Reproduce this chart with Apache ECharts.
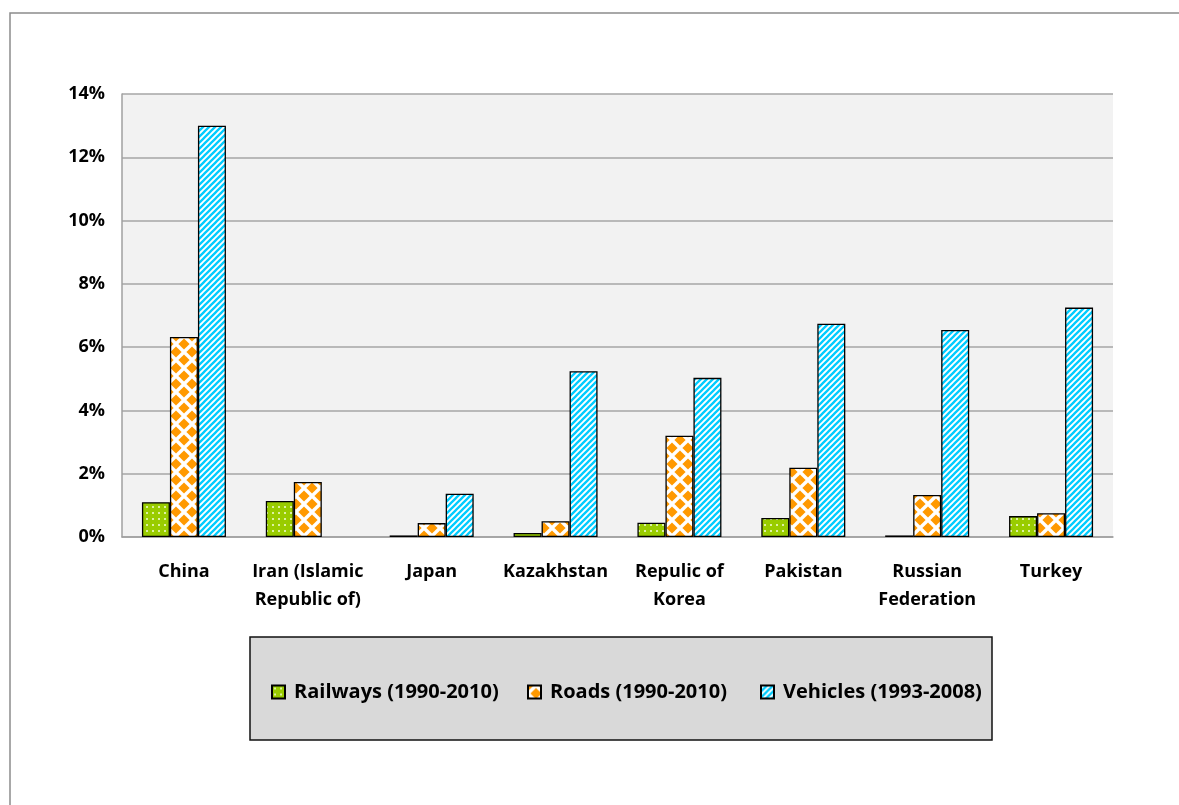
<!DOCTYPE html>
<html>
<head>
<meta charset="utf-8">
<script src="https://cdn.jsdelivr.net/npm/echarts@6/dist/echarts.min.js"></script>
<style>
html,body{margin:0;padding:0;background:#fff;}
#chart{width:1179px;height:805px;}
</style>
</head>
<body>
<div id="chart"></div>
<script>
const categories = ['China', 'Iran (Islamic\nRepublic of)', 'Japan', 'Kazakhstan', 'Repulic of\nKorea', 'Pakistan', 'Russian\nFederation', 'Turkey'];
const railways = [1.1, 1.14, 0.05, 0.13, 0.45, 0.6, 0.05, 0.66];
const roads = [6.32, 1.74, 0.44, 0.5, 3.2, 2.19, 1.33, 0.75];
const vehicles = [13.0, null, 1.37, 5.24, 5.03, 6.74, 6.54, 7.25];
const seriesNames = ['Railways (1990-2010)', 'Roads (1990-2010)', 'Vehicles (1993-2008)'];
const yTicks = [0, 2, 4, 6, 8, 10, 12, 14];

function mk(w, h, draw) {
  const c = document.createElement('canvas');
  c.width = w; c.height = h;
  draw(c.getContext('2d'), w, h);
  return c;
}
const greenPat = mk(6, 6, (g, w, h) => {
  g.fillStyle = '#99cc00'; g.fillRect(0, 0, w, h);
  g.fillStyle = '#f4ffd8';
  g.beginPath(); g.arc(3, 3, 1.0, 0, Math.PI * 2); g.fill();
});
const orangePat = mk(16, 16, (g, w, h) => {
  g.fillStyle = '#ffffff'; g.fillRect(0, 0, w, h);
  g.fillStyle = '#ff9900';
  const r = 5.6;
  const d = (cx, cy) => {
    g.beginPath();
    g.moveTo(cx, cy - r); g.lineTo(cx + r, cy);
    g.lineTo(cx, cy + r); g.lineTo(cx - r, cy); g.closePath(); g.fill();
  };
  d(8, 8); d(0, 0); d(16, 0); d(0, 16); d(16, 16);
});
const cyanPat = mk(6, 6, (g, w, h) => {
  g.fillStyle = '#ffffff'; g.fillRect(0, 0, w, h);
  g.strokeStyle = '#00ccff'; g.lineWidth = 2.3;
  g.beginPath();
  g.moveTo(-1, 7); g.lineTo(7, -1);
  g.moveTo(-4, 4); g.lineTo(4, -4);
  g.moveTo(2, 10); g.lineTo(10, 2);
  g.stroke();
});

const FONT = '"Open Sans", "Liberation Sans", sans-serif';
const chart = echarts.init(document.getElementById('chart'));
const mkSeries = (name, data, pat) => ({
  name, type: 'bar', data, barWidth: 28, barGap: '0%',
  itemStyle: { color: { image: pat, repeat: 'repeat' }, borderColor: '#000', borderWidth: 1.3 }
});
const legendLefts = [266, 522, 755];
chart.setOption({
  animation: false,
  backgroundColor: '#ffffff',
  graphic: [
    { type: 'rect', z: -10, shape: { x: 10, y: 13, width: 1300, height: 900 }, style: { fill: '#fff', stroke: '#8c8c8c', lineWidth: 1.5 } },
    { type: 'rect', z: 0, shape: { x: 250, y: 637, width: 742, height: 103 }, style: { fill: '#d9d9d9', stroke: '#111', lineWidth: 1.5 } }
  ],
  grid: { left: 122, top: 94, right: 66, bottom: 268, show: true, backgroundColor: '#f2f2f2', borderWidth: 0 },
  legend: seriesNames.map((n, i) => ({
    data: [n], left: legendLefts[i], top: 677, itemWidth: 13, itemHeight: 13, icon: 'rect', z: 10,
    textStyle: { fontFamily: FONT, fontWeight: 'bold', fontSize: 20, color: '#000', padding: [0, 0, 0, 4] }
  })),
  xAxis: {
    type: 'category', data: categories,
    axisLine: { lineStyle: { color: '#a0a0a0', width: 1.5 } },
    axisTick: { show: false },
    axisLabel: { interval: 0, margin: 21, lineHeight: 28, fontFamily: FONT, fontWeight: 'bold', fontSize: 18, color: '#000' }
  },
  yAxis: {
    type: 'value', min: 0, max: 14, interval: 2,
    axisLine: { show: true, lineStyle: { color: '#a0a0a0', width: 1.5 } },
    axisTick: { show: false },
    splitLine: { lineStyle: { color: '#a6a6a6', width: 1.5 } },
    axisLabel: { margin: 17, fontFamily: FONT, fontWeight: 'bold', fontSize: 18, color: '#000',
      formatter: v => (yTicks.indexOf(v) >= 0 ? v + '%' : '') }
  },
  series: [
    mkSeries(seriesNames[0], railways, greenPat),
    mkSeries(seriesNames[1], roads, orangePat),
    mkSeries(seriesNames[2], vehicles, cyanPat)
  ]
});
</script>
</body>
</html>
